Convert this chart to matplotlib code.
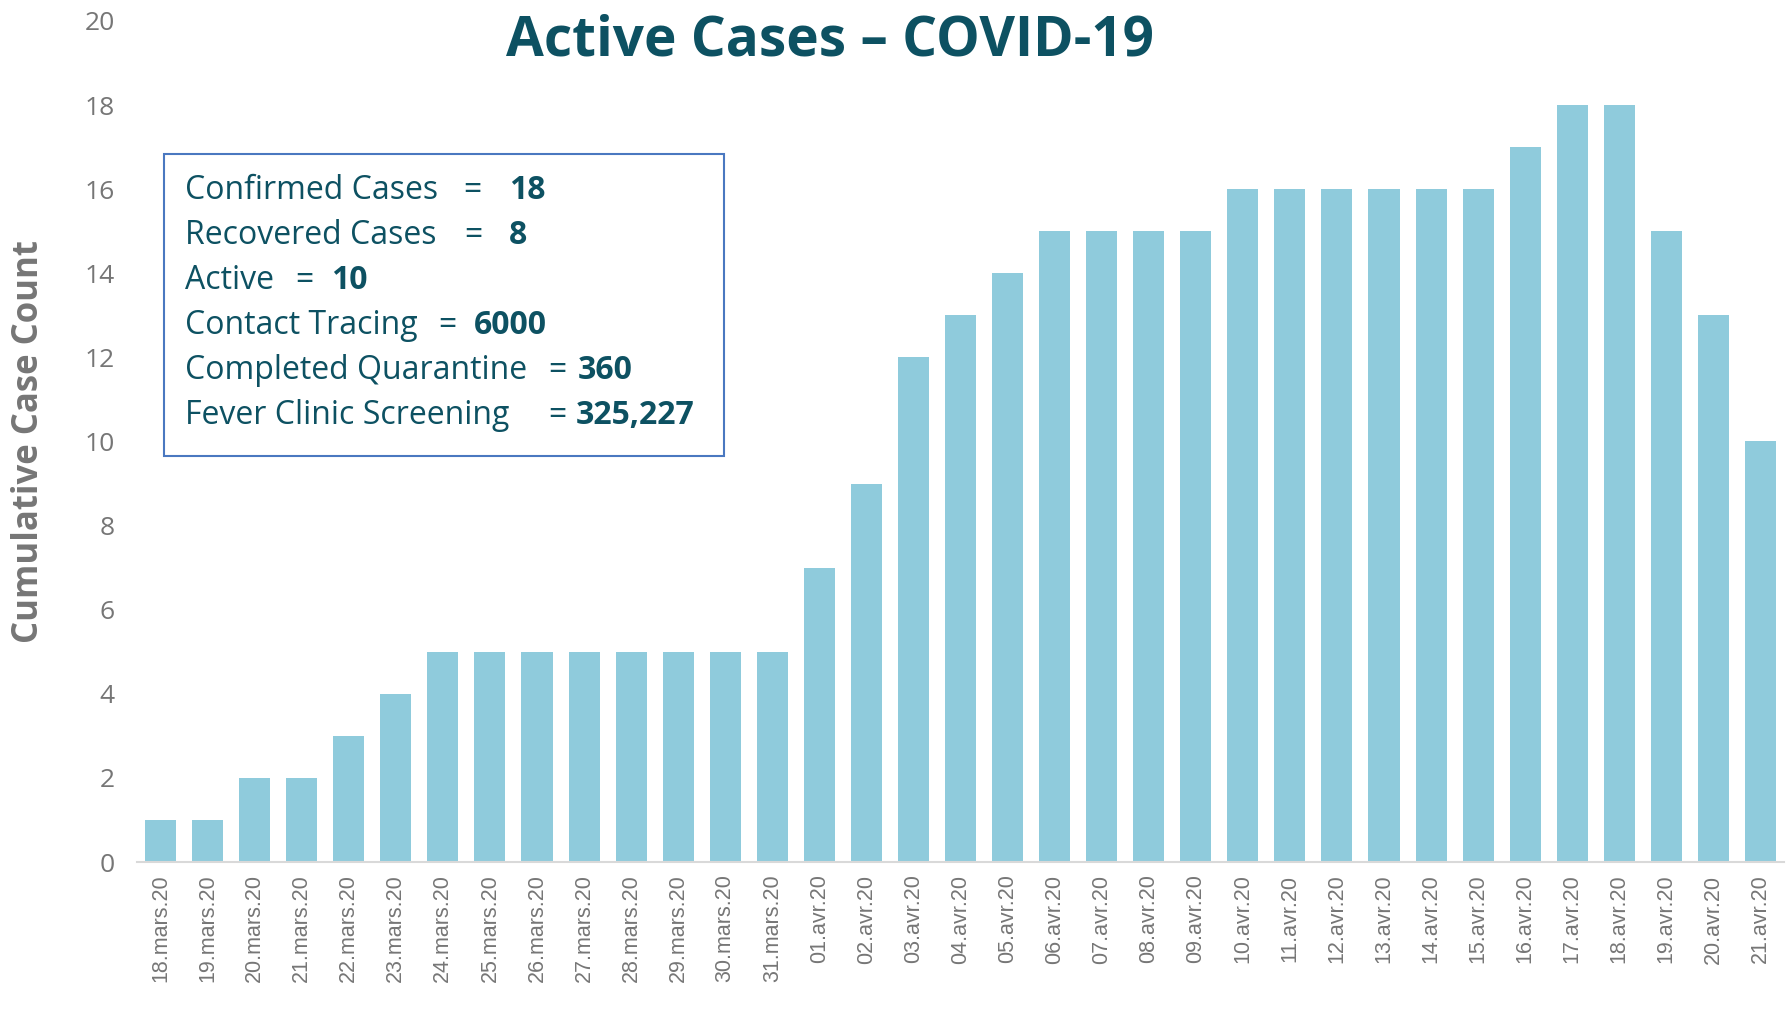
import matplotlib.pyplot as plt

dates = ["18.mars.20", "19.mars.20", "20.mars.20", "21.mars.20", "22.mars.20",
         "23.mars.20", "24.mars.20", "25.mars.20", "26.mars.20", "27.mars.20",
         "28.mars.20", "29.mars.20", "30.mars.20", "31.mars.20",
         "01.avr.20", "02.avr.20", "03.avr.20", "04.avr.20", "05.avr.20",
         "06.avr.20", "07.avr.20", "08.avr.20", "09.avr.20", "10.avr.20",
         "11.avr.20", "12.avr.20", "13.avr.20", "14.avr.20", "15.avr.20",
         "16.avr.20", "17.avr.20", "18.avr.20", "19.avr.20", "20.avr.20",
         "21.avr.20"]
active = [1, 1, 2, 2, 3, 4, 5, 5, 5, 5, 5, 5, 5, 5,
          7, 9, 12, 13, 14, 15, 15, 15, 15, 16, 16, 16, 16, 16, 16,
          17, 18, 18, 15, 13, 10]

# texte de l'encadré
box_labels = ["Confirmed Cases", "Recovered Cases", "Active", "Contact Tracing",
              "Completed Quarantine", "Fever Clinic Screening"]
box_values = ["18", "8", "10", "6000", "360", "325,227"]

W, H = 1787, 1023
teal = "#0d5162"
grey = "#767676"

fig = plt.figure(figsize=(W / 100, H / 100), dpi=100)
ax = fig.add_axes([137 / W, 1 - 862 / H, (1784 - 137) / W, (862 - 21) / H])

x = range(len(dates))
ax.bar(x, active, width=0.66, color="#8fcbdc")
ax.set_xlim(-0.5, len(dates) - 0.5)
ax.set_ylim(0, 20)
ax.set_yticks(range(0, 21, 2))
ax.set_xticks(list(x))
ax.set_xticklabels(dates, rotation=90, fontsize=15.5, color=grey,
                   family="Liberation Sans")
ax.tick_params(axis="y", length=0, pad=16, labelsize=19, labelcolor=grey)
ax.tick_params(axis="x", length=0, pad=9)
for t in ax.get_yticklabels():
    t.set_family("Open Sans")
for s in ["left", "right", "top"]:
    ax.spines[s].set_visible(False)
ax.spines["bottom"].set_color("#d9d9d9")
ax.spines["bottom"].set_linewidth(1.5)

ax.set_ylabel("Cumulative Case Count", fontsize=25, fontweight="bold",
              color=grey, family="Open Sans")
ax.yaxis.set_label_coords(-(137 - 47) / (1784 - 137), 0.5)

fig.text(830 / W, 1 - 41.5 / H, "Active Cases \u2013 COVID-19", fontsize=39.5,
         fontweight="bold", color=teal, family="Open Sans",
         ha="center", va="center")

# encadré
rect = plt.Rectangle((164 / W, 1 - 456 / H), (724 - 164) / W, (456 - 154) / H,
                     transform=fig.transFigure, fill=False,
                     edgecolor="#4a78c0", linewidth=1.5)
fig.add_artist(rect)

eq_x = [472, 473, 304, 447, 557, 557]
val_x = [509, 509, 331, 474, 578, 576]
for i, (lab, val) in enumerate(zip(box_labels, box_values)):
    y = 1 - (190.5 + i * 45) / H
    fig.text(185 / W, y, lab, fontsize=23, color=teal, family="Open Sans",
             va="center")
    fig.text(eq_x[i] / W, y, "=", fontsize=23, color=teal, family="Open Sans",
             va="center", ha="center")
    fig.text(val_x[i] / W, y, val, fontsize=23, fontweight="bold", color=teal,
             family="Open Sans", va="center")

fig.savefig("out.png", dpi=100)
